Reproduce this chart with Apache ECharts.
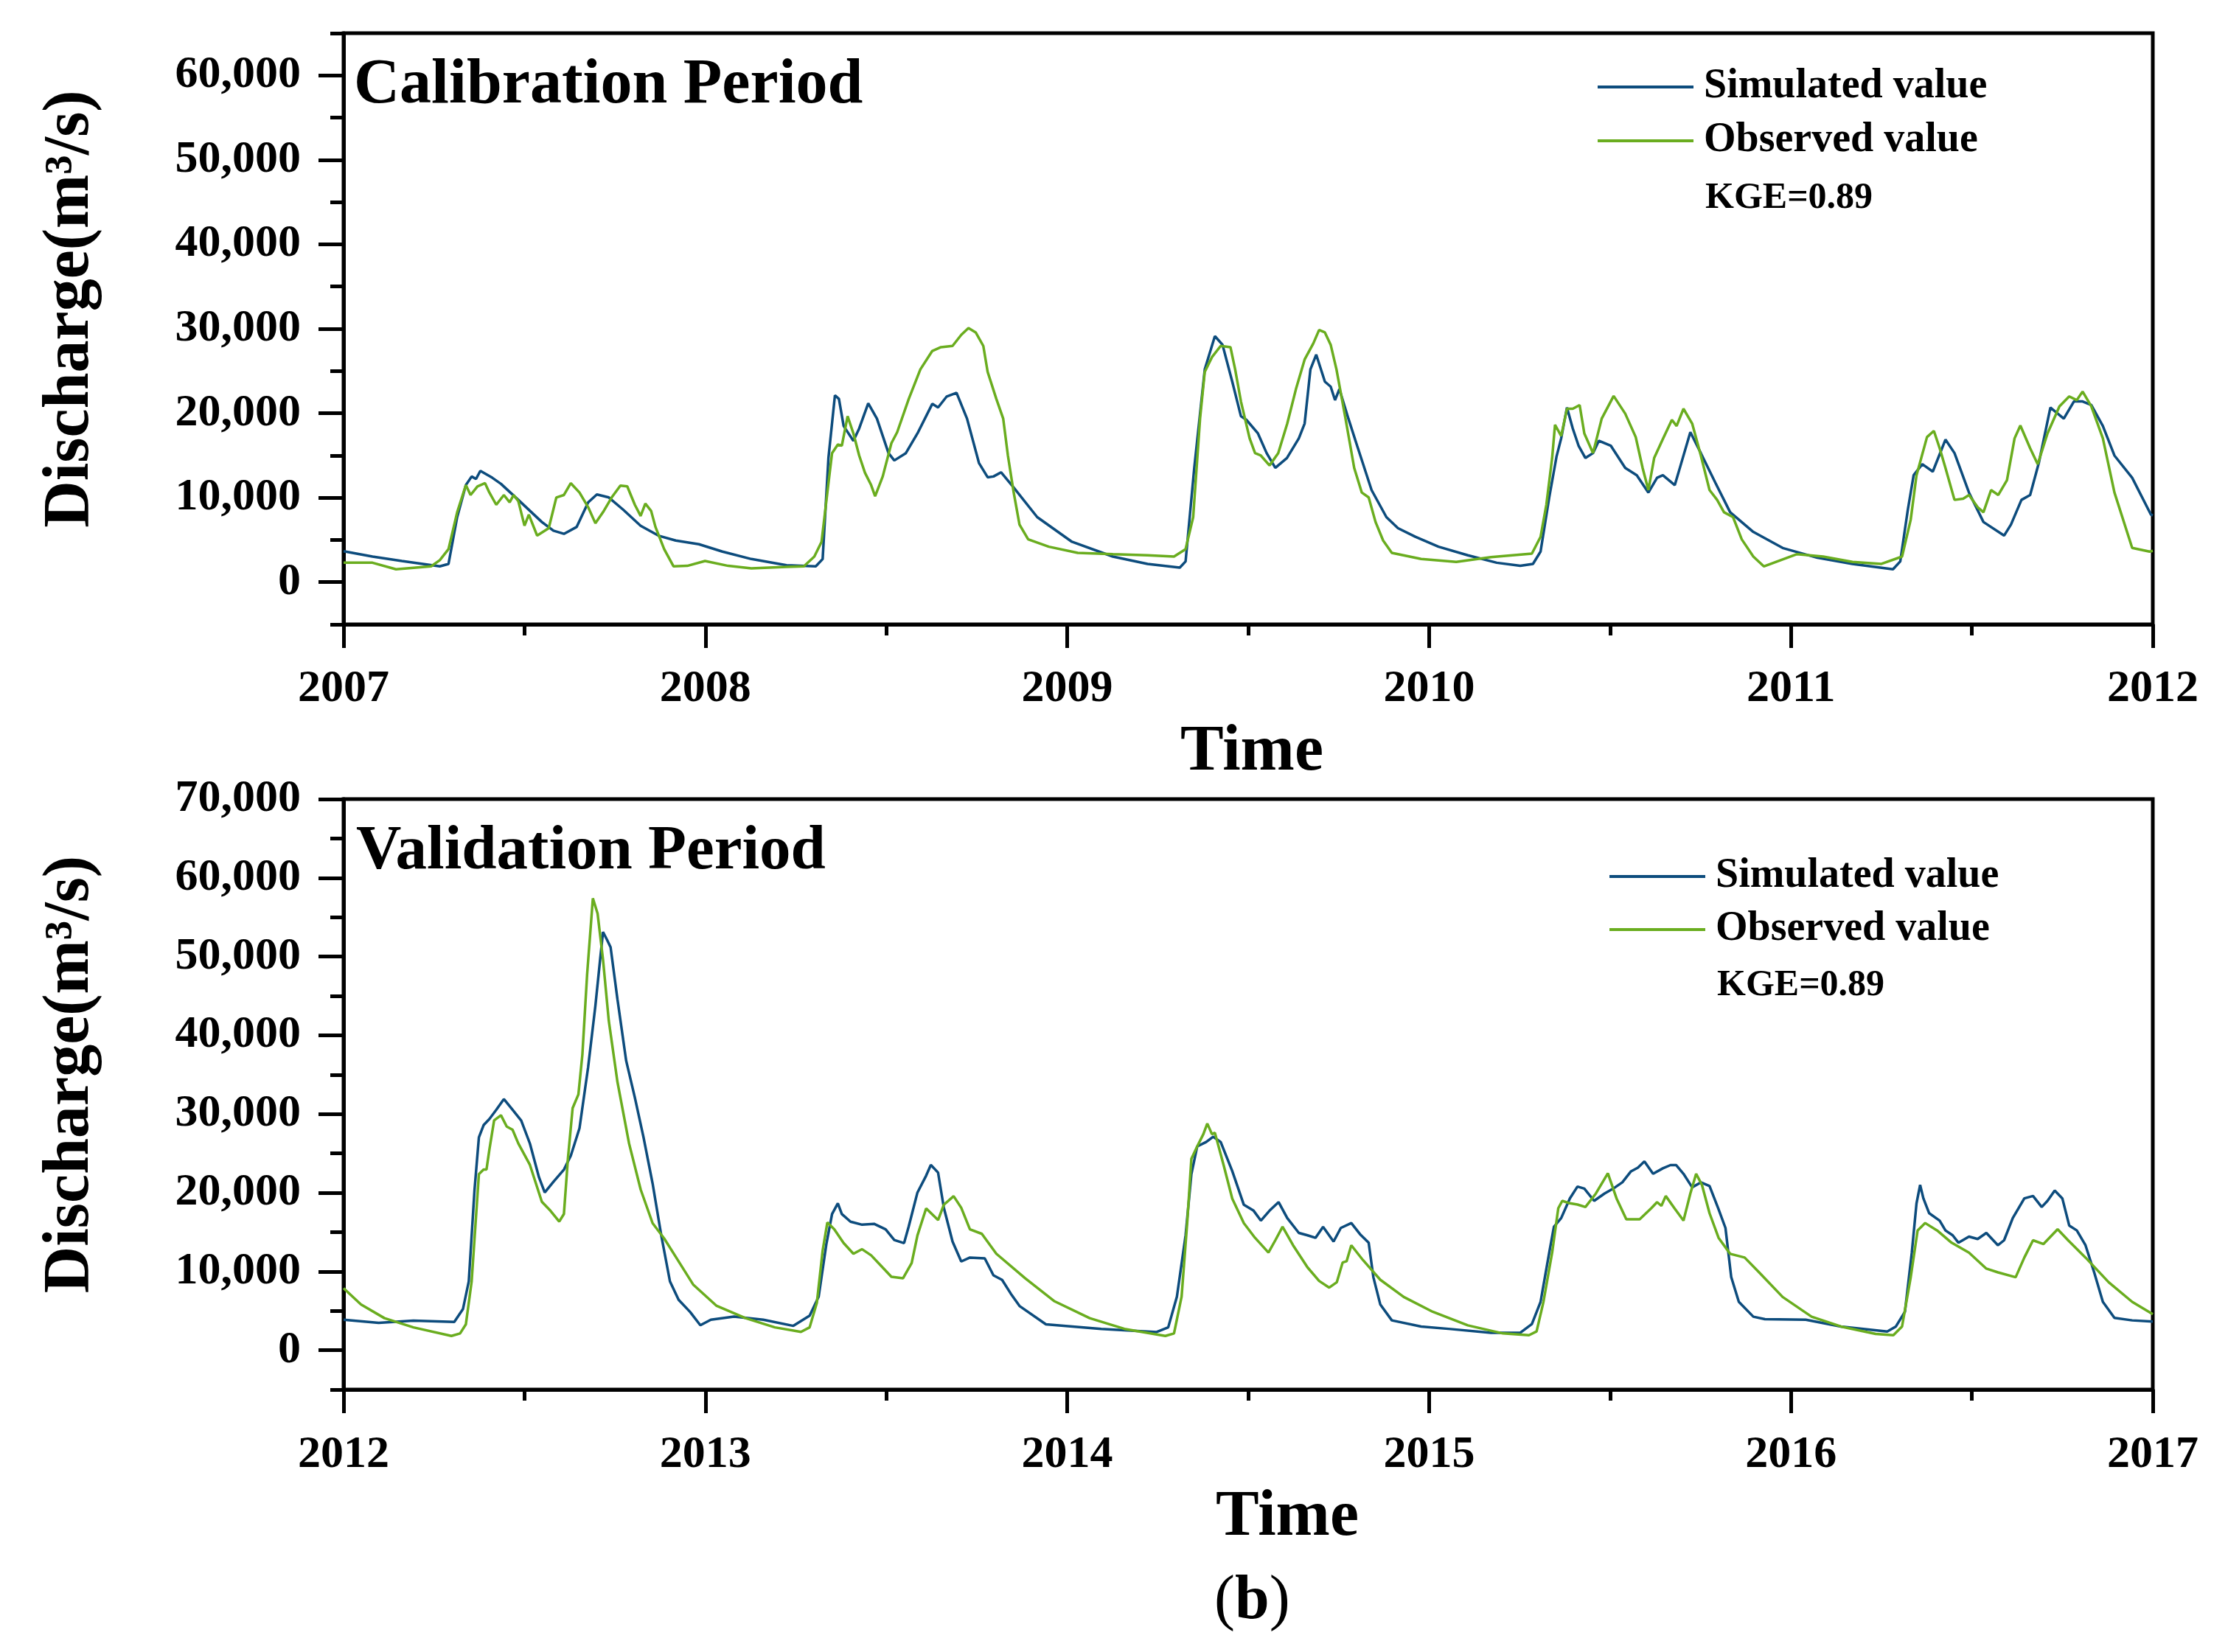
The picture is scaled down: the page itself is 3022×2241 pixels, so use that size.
<!DOCTYPE html>
<html>
<head>
<meta charset="utf-8">
<title>Discharge calibration / validation</title>
<script src="https://cdn.jsdelivr.net/npm/echarts@6/dist/echarts.min.js"></script>
<style>
  html, body { margin: 0; padding: 0; background: #fff; }
  #chart { width: 3022px; height: 2241px; }
</style>
</head>
<body>
<div id="chart"></div>
<script>
// ---- data (decimal year, m3/s) ----
var yearsTop = [2007, 2008, 2009, 2010, 2011, 2012];
var yearsBottom = [2012, 2013, 2014, 2015, 2016, 2017];
var ticksTop = [0, 10000, 20000, 30000, 40000, 50000, 60000];
var ticksBottom = [0, 10000, 20000, 30000, 40000, 50000, 60000, 70000];
var seriesNames = ['Simulated value', 'Observed value'];
var kgeText = 'KGE=0.89';

// calibration period, simulated
var simT1 = [2007.0, 2007.08, 2007.161, 2007.266, 2007.29, 2007.314, 2007.338, 2007.354, 2007.366, 2007.378,
  2007.411, 2007.435, 2007.483, 2007.548, 2007.58, 2007.609, 2007.644, 2007.676, 2007.70, 2007.733,
  2007.773, 2007.821, 2007.87, 2007.918, 2007.982, 2008.047, 2008.127, 2008.224, 2008.305, 2008.324,
  2008.34, 2008.358, 2008.369, 2008.382, 2008.409, 2008.425, 2008.45, 2008.474, 2008.506, 2008.522,
  2008.554, 2008.586, 2008.627, 2008.643, 2008.667, 2008.694, 2008.723, 2008.756, 2008.78, 2008.796,
  2008.817, 2008.852, 2008.917, 2009.013, 2009.126, 2009.222, 2009.311, 2009.327, 2009.351, 2009.38,
  2009.408, 2009.429, 2009.456, 2009.48, 2009.495, 2009.527, 2009.551, 2009.575, 2009.607, 2009.64,
  2009.656, 2009.672, 2009.688, 2009.712, 2009.728, 2009.74, 2009.752, 2009.777, 2009.801, 2009.841,
  2009.882, 2009.914, 2009.962, 2010.026, 2010.107, 2010.187, 2010.252, 2010.287, 2010.308, 2010.332,
  2010.352, 2010.365, 2010.381, 2010.397, 2010.413, 2010.432, 2010.453, 2010.469, 2010.502, 2010.542,
  2010.574, 2010.606, 2010.63, 2010.646, 2010.679, 2010.695, 2010.722, 2010.751, 2010.791, 2010.832,
  2010.896, 2010.977, 2011.073, 2011.17, 2011.282, 2011.302, 2011.323, 2011.339, 2011.363, 2011.392,
  2011.427, 2011.452, 2011.492, 2011.532, 2011.589, 2011.608, 2011.637, 2011.661, 2011.685, 2011.717,
  2011.754, 2011.782, 2011.806, 2011.83, 2011.862, 2011.894, 2011.943, 2011.995, 2012.0];
var simV1 = [3670, 3030, 2510, 1870, 2160, 7700, 11490, 12510, 12220, 13180,
  12360, 11640, 9740, 7120, 6090, 5720, 6530, 9450, 10380, 10030,
  8570, 6680, 5510, 4930, 4490, 3620, 2740, 2010, 1870, 2740,
  14700, 22130, 21700, 18490, 16740, 18200, 21170, 19360, 15280, 14410,
  15280, 17610, 21110, 20680, 21990, 22420, 19360, 14110, 12420, 12510,
  13010, 11200, 7700, 4780, 3030, 2160, 1720, 2450, 13530, 25190,
  29130, 28110, 23740, 19650, 19220, 17610, 15280, 13530, 14700, 17030,
  18780, 25190, 26940, 23740, 23150, 21550, 22860, 19360, 16160, 10910,
  7700, 6390, 5370, 4200, 3180, 2300, 1930, 2160, 3620, 10030,
  14840, 17030, 20680, 18200, 16160, 14700, 15280, 16740, 16160, 13530,
  12660, 10610, 12360, 12660, 11490, 13820, 17760, 15280, 11780, 8280,
  5950, 4050, 2890, 2160, 1520, 2450, 8570, 12660, 13970, 13090,
  16880, 15280, 10610, 7120, 5510, 6820, 9740, 10320, 14110, 20680,
  19360, 21400, 21400, 20970, 18490, 14990, 12360, 7990, 7900];

// calibration period, observed
var obsT1 = [2007.0, 2007.08, 2007.145, 2007.242, 2007.266, 2007.29, 2007.314, 2007.338, 2007.351, 2007.37,
  2007.391, 2007.403, 2007.422, 2007.443, 2007.459, 2007.47, 2007.483, 2007.5, 2007.512, 2007.535,
  2007.567, 2007.588, 2007.609, 2007.628, 2007.652, 2007.676, 2007.696, 2007.717, 2007.741, 2007.765,
  2007.784, 2007.805, 2007.821, 2007.834, 2007.85, 2007.862, 2007.886, 2007.912, 2007.95, 2007.999,
  2008.063, 2008.127, 2008.224, 2008.272, 2008.301, 2008.321, 2008.337, 2008.35, 2008.366, 2008.377,
  2008.393, 2008.409, 2008.425, 2008.441, 2008.458, 2008.469, 2008.49, 2008.514, 2008.53, 2008.562,
  2008.594, 2008.627, 2008.651, 2008.683, 2008.707, 2008.727, 2008.747, 2008.768, 2008.78, 2008.804,
  2008.823, 2008.836, 2008.852, 2008.868, 2008.892, 2008.949, 2009.029, 2009.126, 2009.222, 2009.295,
  2009.327, 2009.348, 2009.367, 2009.38, 2009.4, 2009.424, 2009.451, 2009.464, 2009.48, 2009.504,
  2009.519, 2009.535, 2009.559, 2009.583, 2009.608, 2009.632, 2009.656, 2009.68, 2009.696, 2009.712,
  2009.728, 2009.744, 2009.769, 2009.793, 2009.814, 2009.833, 2009.852, 2009.873, 2009.897, 2009.978,
  2010.075, 2010.171, 2010.284, 2010.308, 2010.324, 2010.34, 2010.348, 2010.365, 2010.381, 2010.397,
  2010.416, 2010.429, 2010.453, 2010.477, 2010.51, 2010.542, 2010.571, 2010.59, 2010.606, 2010.622,
  2010.647, 2010.671, 2010.684, 2010.703, 2010.727, 2010.751, 2010.775, 2010.796, 2010.815, 2010.84,
  2010.864, 2010.896, 2010.925, 2011.017, 2011.089, 2011.17, 2011.25, 2011.307, 2011.331, 2011.347,
  2011.376, 2011.395, 2011.411, 2011.427, 2011.452, 2011.476, 2011.492, 2011.516, 2011.532, 2011.553,
  2011.573, 2011.597, 2011.618, 2011.634, 2011.661, 2011.682, 2011.709, 2011.742, 2011.769, 2011.79,
  2011.806, 2011.83, 2011.862, 2011.894, 2011.943, 2011.991, 2012.0];
var obsV1 = [2300, 2300, 1520, 1870, 2600, 3910, 8280, 11490, 10320, 11340,
  11720, 10610, 9160, 10320, 9450, 10320, 9590, 6680, 7990, 5510,
  6390, 10030, 10320, 11720, 10610, 8870, 6970, 8280, 10030, 11430,
  11340, 9160, 7840, 9300, 8430, 6530, 3910, 1870, 1930, 2510,
  1930, 1630, 1810, 1870, 3030, 4780, 10610, 15280, 16300, 16160,
  19650, 17610, 14990, 12950, 11490, 10180, 12510, 16450, 17760, 21700,
  25190, 27380, 27820, 27970, 29280, 30090, 29570, 27970, 24900, 21700,
  19360, 14990, 10610, 6820, 5070, 4200, 3470, 3320, 3180, 3030,
  3910, 7700, 19360, 24900, 26650, 27970, 27820, 25190, 21400, 17030,
  15280, 14990, 13820, 15280, 18780, 22860, 26360, 28260, 29860, 29570,
  28110, 25190, 19360, 13530, 10610, 10030, 7120, 4930, 3470, 2740,
  2390, 2970, 3380, 5370, 9160, 14700, 18630, 17320, 20530, 20530,
  20970, 17610, 15280, 19360, 22050, 19950, 17180, 13530, 10910, 14700,
  17030, 19220, 18490, 20530, 18780, 14990, 10910, 9740, 8280, 7700,
  5070, 3030, 1870, 3320, 3030, 2390, 2160, 3030, 7410, 12660,
  17180, 17910, 15860, 13530, 9740, 9890, 10320, 8870, 8280, 10910,
  10320, 12070, 17030, 18550, 15860, 13970, 17610, 20820, 21990, 21550,
  22570, 20820, 17030, 10610, 4050, 3620, 3700];

// validation period, simulated
var simT2 = [2012.0, 2012.097, 2012.193, 2012.306, 2012.33, 2012.346, 2012.362, 2012.374, 2012.387, 2012.403,
  2012.422, 2012.443, 2012.467, 2012.491, 2012.515, 2012.54, 2012.556, 2012.58, 2012.609, 2012.628,
  2012.652, 2012.676, 2012.696, 2012.709, 2012.717, 2012.728, 2012.738, 2012.757, 2012.781, 2012.805,
  2012.829, 2012.854, 2012.878, 2012.902, 2012.926, 2012.958, 2012.986, 2013.015, 2013.079, 2013.16,
  2013.243, 2013.288, 2013.313, 2013.334, 2013.35, 2013.366, 2013.377, 2013.401, 2013.433, 2013.466,
  2013.498, 2013.522, 2013.549, 2013.562, 2013.586, 2013.61, 2013.623, 2013.643, 2013.659, 2013.683,
  2013.707, 2013.731, 2013.772, 2013.796, 2013.82, 2013.844, 2013.868, 2013.941, 2014.094, 2014.247,
  2014.279, 2014.303, 2014.327, 2014.343, 2014.359, 2014.384, 2014.403, 2014.424, 2014.456, 2014.488,
  2014.515, 2014.535, 2014.559, 2014.584, 2014.608, 2014.64, 2014.664, 2014.686, 2014.707, 2014.736,
  2014.756, 2014.785, 2014.809, 2014.833, 2014.846, 2014.865, 2014.897, 2014.978, 2015.059, 2015.171,
  2015.252, 2015.284, 2015.308, 2015.332, 2015.345, 2015.365, 2015.389, 2015.41, 2015.429, 2015.456,
  2015.485, 2015.509, 2015.534, 2015.558, 2015.577, 2015.595, 2015.619, 2015.646, 2015.667, 2015.683,
  2015.703, 2015.727, 2015.751, 2015.775, 2015.799, 2015.819, 2015.835, 2015.856, 2015.896, 2015.928,
  2016.041, 2016.138, 2016.266, 2016.29, 2016.315, 2016.334, 2016.347, 2016.357, 2016.366, 2016.382,
  2016.411, 2016.427, 2016.447, 2016.463, 2016.492, 2016.516, 2016.54, 2016.572, 2016.589, 2016.613,
  2016.645, 2016.669, 2016.693, 2016.709, 2016.729, 2016.75, 2016.769, 2016.79, 2016.814, 2016.838,
  2016.862, 2016.894, 2016.943, 2017.0];
var simV2 = [3870, 3480, 3750, 3600, 5230, 8740, 20410, 27030, 28590, 29370,
  30540, 31900, 30540, 29170, 26250, 21970, 20030, 21390, 22940, 24700,
  28200, 35990, 43770, 49610, 53120, 52140, 51170, 44550, 36770, 32090,
  27030, 21190, 14580, 8740, 6400, 4840, 3170, 3870, 4260, 3870,
  3090, 4380, 6790, 13410, 17300, 18660, 17300, 16330, 15940, 16050,
  15350, 13990, 13600, 15740, 20030, 22170, 23530, 22560, 18080, 13800,
  11270, 11770, 11660, 9510, 8930, 7180, 5620, 3290, 2700, 2310,
  2900, 6790, 14580, 22360, 25870, 26450, 27110, 26450, 22750, 18470,
  17720, 16460, 17720, 18810, 16780, 14900, 14590, 14270, 15680, 13800,
  15530, 16150, 14740, 13650, 9270, 5820, 3790, 3010, 2690, 2220,
  2220, 3320, 6140, 12400, 15680, 16780, 19280, 20780, 20530, 18970,
  19910, 20530, 21320, 22720, 23190, 23980, 22410, 23100, 23510, 23510,
  22410, 20690, 21320, 20850, 18030, 15530, 9270, 6140, 4260, 3940,
  3880, 3010, 2380, 3010, 4880, 12400, 18660, 21000, 19280, 17400,
  16460, 15210, 14590, 13650, 14430, 14120, 14900, 13330, 13960, 16780,
  19280, 19590, 18190, 18970, 20280, 19280, 15840, 15210, 13330, 9890,
  6140, 4100, 3790, 3630];

// validation period, observed
var obsT2 = [2012.0, 2012.048, 2012.113, 2012.193, 2012.298, 2012.322, 2012.338, 2012.354, 2012.374, 2012.387,
  2012.395, 2012.403, 2012.416, 2012.435, 2012.451, 2012.467, 2012.483, 2012.515, 2012.548, 2012.572,
  2012.596, 2012.609, 2012.62, 2012.633, 2012.649, 2012.66, 2012.673, 2012.689, 2012.702, 2012.717,
  2012.733, 2012.757, 2012.789, 2012.821, 2012.854, 2012.886, 2012.918, 2012.966, 2013.031, 2013.111,
  2013.192, 2013.264, 2013.288, 2013.308, 2013.324, 2013.337, 2013.356, 2013.382, 2013.409, 2013.433,
  2013.458, 2013.49, 2013.514, 2013.546, 2013.57, 2013.586, 2013.61, 2013.643, 2013.659, 2013.686,
  2013.707, 2013.731, 2013.764, 2013.804, 2013.884, 2013.965, 2014.062, 2014.158, 2014.271, 2014.295,
  2014.316, 2014.332, 2014.343, 2014.359, 2014.376, 2014.387, 2014.4, 2014.408, 2014.432, 2014.456,
  2014.488, 2014.519, 2014.556, 2014.575, 2014.595, 2014.624, 2014.664, 2014.696, 2014.724, 2014.745,
  2014.761, 2014.772, 2014.785, 2014.817, 2014.865, 2014.93, 2015.01, 2015.107, 2015.204, 2015.276,
  2015.297, 2015.316, 2015.34, 2015.357, 2015.368, 2015.389, 2015.41, 2015.432, 2015.461, 2015.494,
  2015.518, 2015.545, 2015.582, 2015.614, 2015.63, 2015.642, 2015.654, 2015.678, 2015.703, 2015.722,
  2015.738, 2015.754, 2015.775, 2015.8, 2015.832, 2015.872, 2015.912, 2015.977, 2016.057, 2016.138,
  2016.234, 2016.283, 2016.307, 2016.331, 2016.35, 2016.371, 2016.404, 2016.444, 2016.492, 2016.54,
  2016.572, 2016.621, 2016.645, 2016.669, 2016.698, 2016.737, 2016.766, 2016.814, 2016.878, 2016.943,
  2017.0];
var obsV2 = [7880, 5820, 4070, 2900, 1810, 2130, 3290, 8740, 22370, 22950,
  22950, 25480, 29180, 29840, 28400, 28010, 26260, 23540, 18860, 17700,
  16330, 17310, 24310, 30740, 32490, 37550, 47670, 57400, 55460, 49620,
  41830, 34050, 26260, 20420, 16140, 14190, 11860, 8350, 5630, 4070,
  2900, 2320, 2900, 6020, 12640, 16220, 15360, 13610, 12250, 12830,
  12050, 10490, 9330, 9130, 11080, 14580, 18010, 16530, 18480, 19570,
  18090, 15360, 14780, 12250, 9130, 6210, 4070, 2710, 1810, 2130,
  6800, 16530, 24310, 25870, 27430, 28790, 27430, 27620, 23540, 19250,
  16140, 14270, 12400, 13960, 15680, 13330, 10520, 8800, 7950, 8640,
  11140, 11300, 13330, 11460, 8950, 6760, 4880, 3160, 2130, 1910,
  2380, 6140, 12400, 18030, 18970, 18660, 18500, 18190, 19910, 22470,
  19280, 16620, 16620, 18030, 18810, 18340, 19590, 18030, 16460, 19910,
  22410, 21000, 17400, 14270, 12240, 11770, 9890, 6760, 4260, 3010,
  2070, 1910, 3010, 9270, 15210, 16150, 15210, 13650, 12400, 10360,
  9890, 9270, 11770, 13960, 13490, 15370, 13960, 11770, 8640, 6140,
  4570];

// ---- chart ----
var FONT = "'Liberation Serif', 'Times New Roman', serif";
var SIM_COLOR = '#0d4c7d';
var OBS_COLOR = '#6aad1f';

function pairs(t, v) {
    var out = [];
    for (var i = 0; i < t.length; i++) {
        out.push([t[i], v[i]]);
    }
    return out;
}

function thousands(v) {
    return String(v).replace(/\B(?=(\d{3})+(?!\d))/g, ',');
}

function xAxisFor(gridIndex, years, labelMargin, namePadLeft, nameGap) {
    return {
        type: 'value',
        gridIndex: gridIndex,
        min: years[0],
        max: years[years.length - 1],
        interval: 1,
        name: 'Time',
        nameLocation: 'middle',
        nameGap: nameGap,
        nameTextStyle: {
            fontFamily: FONT, fontWeight: 'bold', fontSize: 88, color: '#000',
            padding: [0, 0, 0, namePadLeft]
        },
        axisLine: { onZero: false, lineStyle: { color: '#000', width: 5 } },
        axisTick: { length: 32, lineStyle: { color: '#000', width: 5 } },
        minorTick: { show: true, splitNumber: 2, length: 15, lineStyle: { color: '#000', width: 5 } },
        splitLine: { show: false },
        axisLabel: {
            margin: labelMargin,
            fontFamily: FONT, fontWeight: 'bold', fontSize: 62, color: '#000',
            formatter: function(v) { return String(v); }
        }
    };
}

// main y axis: line, labels and the short ticks every 5000
function yAxisMain(gridIndex, max) {
    return {
        type: 'value',
        gridIndex: gridIndex,
        position: 'left',
        min: -5000,
        max: max,
        interval: 5000,
        name: 'Discharge(m³/s)',
        nameLocation: 'middle',
        nameGap: 326,
        nameTextStyle: {
            fontFamily: FONT, fontWeight: 'bold', fontSize: 88, color: '#000',
            padding: [0, 0, 0, 54]
        },
        axisLine: { show: true, onZero: false, lineStyle: { color: '#000', width: 5 } },
        axisTick: { show: true, length: 18, lineStyle: { color: '#000', width: 5 } },
        splitLine: { show: false },
        axisLabel: {
            margin: 58,
            fontFamily: FONT, fontWeight: 'bold', fontSize: 62, color: '#000',
            formatter: function(v) {
                return (v >= 0 && v % 10000 === 0) ? thousands(v) : '';
            }
        }
    };
}

// overlay y axis on the same side: only the long ticks at the labelled values
function yAxisMajor(gridIndex, max, ticks) {
    return {
        type: 'value',
        gridIndex: gridIndex,
        position: 'left',
        min: -5000,
        max: max,
        axisLine: { show: false, onZero: false },
        axisTick: { show: true, length: 34, customValues: ticks, lineStyle: { color: '#000', width: 5 } },
        axisLabel: { show: false },
        splitLine: { show: false }
    };
}

function lineSeries(name, data, color, xi, yi) {
    return {
        name: name,
        type: 'line',
        xAxisIndex: xi,
        yAxisIndex: yi,
        data: data,
        symbol: 'none',
        smooth: false,
        lineStyle: { color: color, width: 3.5 },
        itemStyle: { color: color },
        emphasis: { disabled: true }
    };
}

function legendAt(left, top, gap) {
    return {
        data: seriesNames,
        orient: 'vertical',
        left: left,
        top: top,
        padding: 0,
        icon: 'rect',
        itemWidth: 130,
        itemHeight: 4,
        itemGap: gap,
        selectedMode: false,
        textStyle: {
            fontFamily: FONT, fontWeight: 'bold', fontSize: 56, color: '#000',
            padding: [0, 0, 0, 9]
        }
    };
}

function titleAt(text, left, top, size) {
    return {
        text: text,
        left: left,
        top: top,
        padding: 0,
        textStyle: { fontFamily: FONT, fontWeight: 'bold', fontSize: size, color: '#000' }
    };
}

var chart = echarts.init(document.getElementById('chart'));
var option = {
    animation: false,
    backgroundColor: '#fff',
    title: [
        titleAt('Calibration Period', 480, 74, 86),
        titleAt(kgeText, 2313, 244, 50),
        titleAt('Validation Period', 483, 1114, 85),
        titleAt(kgeText, 2329, 1312, 50),
        {
            text: '{p|(}{b|b}{p|)}',
            left: 1647,
            top: 2131,
            padding: 0,
            textStyle: {
                rich: {
                    p: { fontFamily: FONT, fontSize: 84, fontWeight: 'normal', color: '#000' },
                    b: { fontFamily: FONT, fontSize: 84, fontWeight: 'bold', color: '#000' }
                }
            }
        }
    ],
    legend: [
        legendAt(2167, 90, 17),
        legendAt(2183, 1161, 16)
    ],
    grid: [
        { left: 466, right: 102, top: 45, height: 802, show: true, borderColor: '#000', borderWidth: 5, containLabel: false },
        { left: 466, right: 102, top: 1084, height: 801, show: true, borderColor: '#000', borderWidth: 5, containLabel: false }
    ],
    xAxis: [
        xAxisFor(0, yearsTop, 57, 10, 130),
        xAxisFor(1, yearsBottom, 58, 106, 130)
    ],
    yAxis: [
        yAxisMain(0, 65000),
        yAxisMajor(0, 65000, ticksTop),
        yAxisMain(1, 70000),
        yAxisMajor(1, 70000, ticksBottom)
    ],
    series: [
        lineSeries(seriesNames[0], pairs(simT1, simV1), SIM_COLOR, 0, 0),
        lineSeries(seriesNames[1], pairs(obsT1, obsV1), OBS_COLOR, 0, 0),
        lineSeries(seriesNames[0], pairs(simT2, simV2), SIM_COLOR, 1, 2),
        lineSeries(seriesNames[1], pairs(obsT2, obsV2), OBS_COLOR, 1, 2)
    ]
};
chart.setOption(option);
</script>
</body>
</html>
